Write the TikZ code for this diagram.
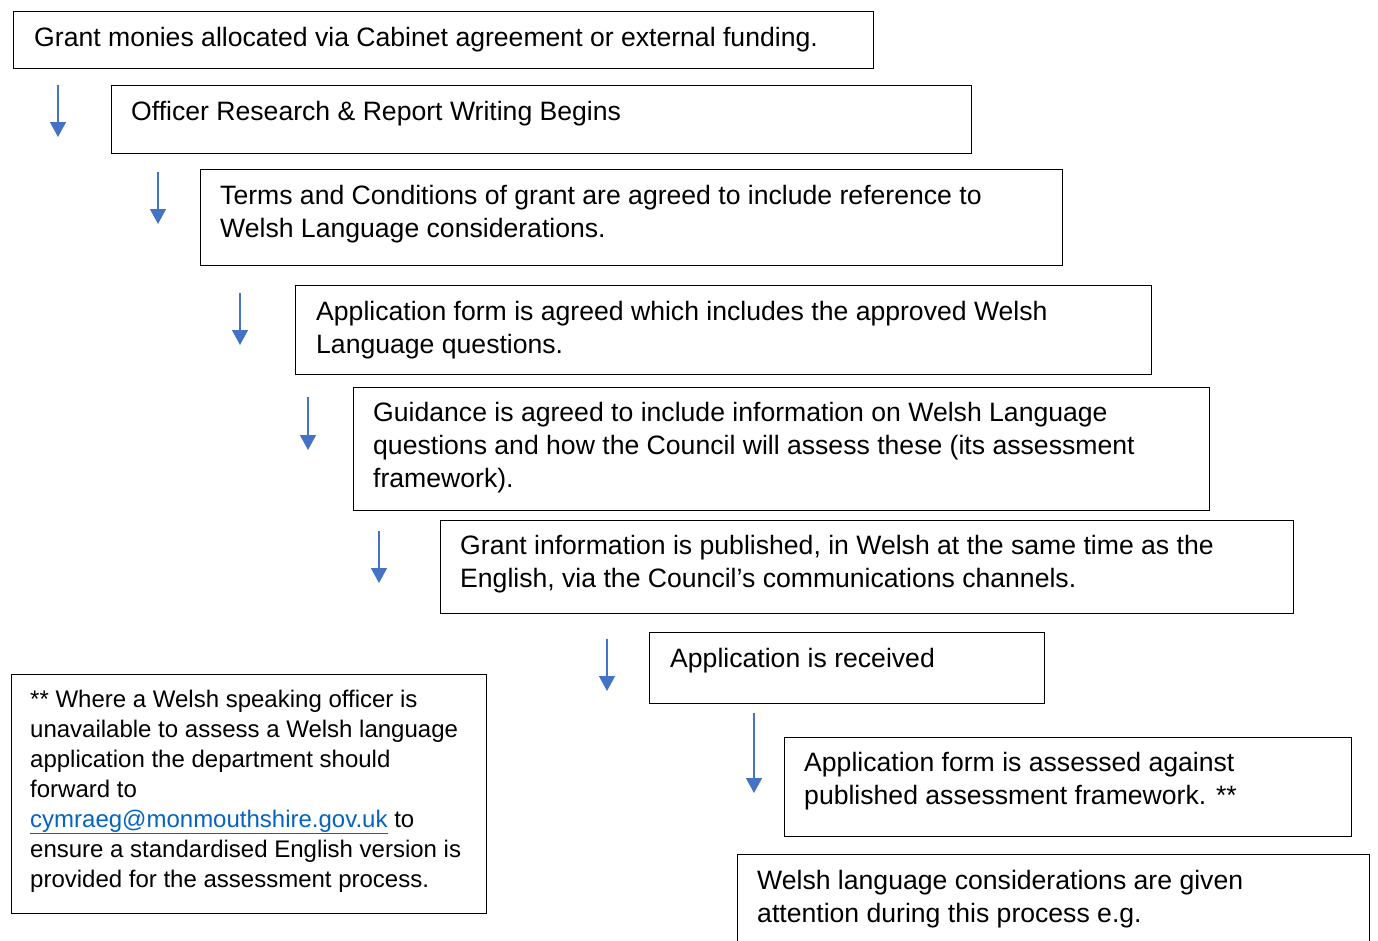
\documentclass[tikz,border=0pt]{standalone}
\usepackage{fontspec}
\setmainfont{Liberation Sans}
\usetikzlibrary{arrows.meta}
\definecolor{arrblue}{HTML}{4472C4}
\definecolor{linkblue}{HTML}{0563C1}
\begin{document}
\begin{tikzpicture}[x=1pt,y=-1pt,
  stepbox/.style={draw=black, line width=1.6pt, rectangle, inner sep=0pt, anchor=north west},
  txt/.style={anchor=north west, inner sep=0pt, align=left, font=\fontsize{26.6}{33}\selectfont},
  notetxt/.style={anchor=north west, inner sep=0pt, align=left, font=\fontsize{24}{30}\selectfont},
  flow/.style={draw=arrblue, line width=1.3pt, -{Triangle[width=16pt,length=15pt]}}]
\useasboundingbox (0,0) rectangle (1378,940);
\clip (0,0) rectangle (1378,940);
% boxes
\node[stepbox, minimum width=860pt, minimum height=57pt] (b1) at (12.5,10.5) {};
\node[stepbox, minimum width=860pt, minimum height=68pt] (b2) at (110.5,84.5) {};
\node[stepbox, minimum width=862pt, minimum height=96pt] (b3) at (199.5,168.5) {};
\node[stepbox, minimum width=856pt, minimum height=89pt] (b4) at (294.5,284.5) {};
\node[stepbox, minimum width=856pt, minimum height=123pt] (b5) at (352.5,386.5) {};
\node[stepbox, minimum width=853pt, minimum height=93pt] (b6) at (439.5,519.5) {};
\node[stepbox, minimum width=395pt, minimum height=71pt] (b7) at (648.5,631.5) {};
\node[stepbox, minimum width=567pt, minimum height=99pt] (b8) at (783.5,736.5) {};
\node[stepbox, minimum width=632pt, minimum height=120pt] (b9) at (736.5,853.5) {};
\node[stepbox, minimum width=475pt, minimum height=239pt] (note) at (10.5,673.5) {};
% texts
\node[txt] (t1) at (34,23) {\strut Grant monies allocated via Cabinet agreement or external funding.};
\node[txt] (t2) at (131,97) {\strut Officer Research \& Report Writing Begins};
\node[txt] (t3) at (220,181) {\strut Terms and Conditions of grant are agreed to include reference to\\\strut Welsh Language considerations.};
\node[txt] (t4) at (316,297) {\strut Application form is agreed which includes the approved Welsh\\\strut Language questions.};
\node[txt] (t5) at (373,398) {\strut Guidance is agreed to include information on Welsh Language\\\strut questions and how the Council will assess these (its assessment\\\strut framework).};
\node[txt] (t6) at (460,531) {\strut Grant information is published, in Welsh at the same time as the\\\strut English, via the Council’s communications channels.};
\node[txt] (t7) at (670,644) {\strut Application is received};
\node[txt] (t8) at (804,748) {\strut Application form is assessed against\\\strut published assessment framework. **};
\node[txt] (t9) at (757,866) {\strut Welsh language considerations are given\\\strut attention during this process e.g.};
\node[notetxt] (tn) at (30,686) {\strut ** Where a Welsh speaking officer is\\\strut unavailable to assess a Welsh language\\\strut application the department should\\\strut forward to\\\strut {\color{linkblue}\underline{cymraeg@monmouthshire.gov.uk}} to\\\strut ensure a standardised English version is\\\strut provided for the assessment process.};
% arrows
\coordinate (a1s) at (58,85);  \coordinate (a1e) at (58,137);
\coordinate (a2s) at (158,172); \coordinate (a2e) at (158,224);
\coordinate (a3s) at (240,293); \coordinate (a3e) at (240,345);
\coordinate (a4s) at (308,397); \coordinate (a4e) at (308,450);
\coordinate (a5s) at (379,531); \coordinate (a5e) at (379,583);
\coordinate (a6s) at (607,639); \coordinate (a6e) at (607,691);
\coordinate (a7s) at (754,713); \coordinate (a7e) at (754,793);
\draw[flow] (a1s) -- (a1e);
\draw[flow] (a2s) -- (a2e);
\draw[flow] (a3s) -- (a3e);
\draw[flow] (a4s) -- (a4e);
\draw[flow] (a5s) -- (a5e);
\draw[flow] (a6s) -- (a6e);
\draw[flow] (a7s) -- (a7e);
\end{tikzpicture}
\end{document}
